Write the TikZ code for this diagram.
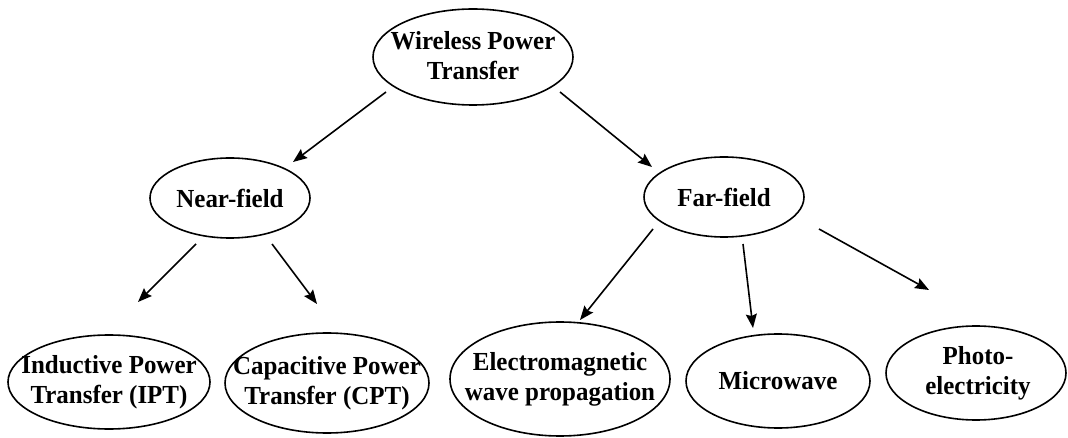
\documentclass[tikz,border=0pt]{standalone}
\usepackage{fontspec}
\setmainfont{Liberation Serif}[FakeStretch=0.96]
\usetikzlibrary{arrows.meta}
\tikzset{
  lbl/.style={inner sep=0pt, align=center,
    font=\bfseries\fontsize{26}{30}\selectfont},
  ring/.style={line width=1.6pt},
  arr/.style={line width=1.6pt, -{Stealth[length=14pt,width=11pt,inset=2pt]}}
}
\begin{document}
\begin{tikzpicture}[x=1pt,y=-1pt]
\useasboundingbox (0,0) rectangle (1068,438);
\node[lbl] (wpt) at (473,56) {Wireless Power\\Transfer};
\node[lbl] (near) at (230,198) {Near-field};
\node[lbl] (far) at (724,197) {Far-field};
\node[lbl] (ipt) at (109,382) {Inductive Power\\Transfer (IPT)};
\node[lbl] (cpt) at (327,383) {Capacitive Power\\Transfer (CPT)};
\node[lbl] (em) at (560,379) {Electromagnetic\\wave propagation};
\node[lbl] (mw) at (778,381) {Microwave};
\node[lbl] (ph) at (978,373) {Photo-\\electricity};
\draw[ring] (473,57) ellipse [x radius=100, y radius=48];
\draw[ring] (near.center) ellipse [x radius=80, y radius=40];
\draw[ring] (far.center) ellipse [x radius=80, y radius=40];
\draw[ring] (ipt.center) ellipse [x radius=101, y radius=47];
\draw[ring] (cpt.center) ellipse [x radius=102, y radius=50];
\draw[ring] (em.center) ellipse [x radius=110, y radius=57];
\draw[ring] (mw.center) ellipse [x radius=92, y radius=47];
\draw[ring] (976,373) ellipse [x radius=90, y radius=47];
% connector ends
\coordinate (wptL) at (386,92);  \coordinate (nearT) at (293,162);
\coordinate (wptR) at (560,92);  \coordinate (farT) at (652,167);
\coordinate (nearL) at (196,244); \coordinate (iptT) at (138,302);
\coordinate (nearR) at (272,244); \coordinate (cptT) at (317,304);
\coordinate (farL) at (653,229); \coordinate (emT) at (580,320);
\coordinate (farB) at (743,244); \coordinate (mwT) at (753,328);
\coordinate (farR) at (819,229); \coordinate (phT) at (929,290);
\draw[arr] (wptL) -- (nearT);
\draw[arr] (wptR) -- (farT);
\draw[arr] (nearL) -- (iptT);
\draw[arr] (nearR) -- (cptT);
\draw[arr] (farL) -- (emT);
\draw[arr] (farB) -- (mwT);
\draw[arr] (farR) -- (phT);
\end{tikzpicture}
\end{document}
